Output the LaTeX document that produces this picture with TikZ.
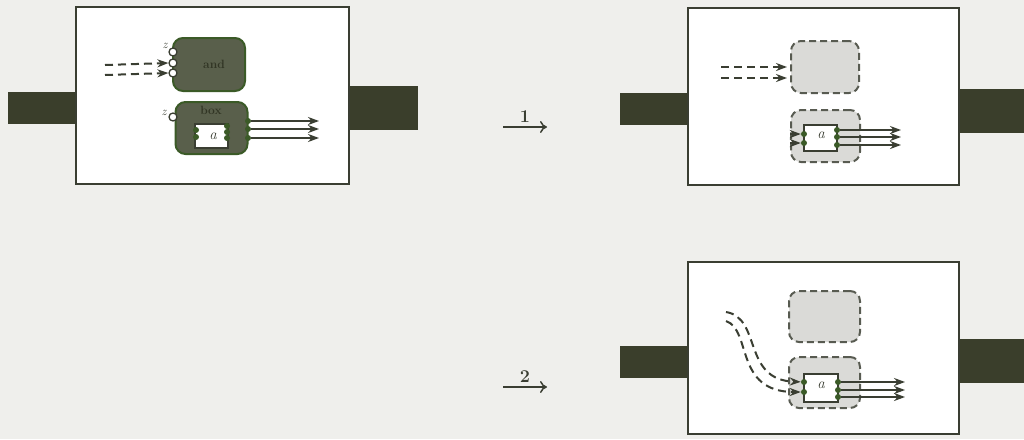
\documentclass[tikz,border=0pt]{standalone}
\usetikzlibrary{arrows.meta}
\definecolor{bgc}{HTML}{EFEFEC}
\definecolor{bardark}{HTML}{3A3E2B}
\definecolor{boxdark}{HTML}{595F4B}
\definecolor{boxedge}{HTML}{3B5A27}
\definecolor{ghostfill}{HTML}{DADAD7}
\definecolor{ink}{HTML}{3A3E32}
\tikzset{
  panel/.style={draw=ink, fill=white, line width=1.8pt},
  bar/.style={fill=bardark, draw=none},
  darkbox/.style={rounded corners=10pt, fill=boxdark, draw=boxedge, line width=2pt, minimum width=#1},
  ghostbox/.style={rounded corners=10pt, fill=ghostfill, draw=ink!85, dash pattern=on 7pt off 4pt, line width=2pt},
  innersq/.style={fill=white, draw=ink, line width=1.8pt, inner sep=0pt},
  port/.style={circle, draw=ink, fill=white, line width=1.3pt, inner sep=0pt, minimum size=8pt},
  bump/.style={circle, fill=boxedge, inner sep=0pt, minimum size=6pt},
  dsh/.style={draw=ink, line width=2pt, dash pattern=on 8pt off 5pt, -{Stealth[length=11pt,width=8pt]}},
  outarr/.style={draw=ink, line width=1.8pt, -{Stealth[length=11pt,width=8pt]}},
  stepar/.style={draw=ink, line width=1.5pt, -{To[length=7pt,width=12pt]}},
  lbl/.style={font=\fontsize{12}{12}\selectfont\itshape, text=ink},
  boxlbl/.style={font=\fontsize{12}{12}\selectfont\bfseries, text=bardark!85!black},
  alabel/.style={font=\fontsize{15}{15}\selectfont\itshape, text=ink},
  steplbl/.style={font=\fontsize{18}{18}\selectfont\bfseries, text=ink},
}
\begin{document}
\begin{tikzpicture}[x=1pt,y=-1pt]
\useasboundingbox (0,0) rectangle (1024,439);
\fill[bgc] (0,0) rectangle (1024,439);

% ---------- panel 1 ----------
\node[bar, minimum width=68pt, minimum height=32pt, inner sep=0pt] (b1l) at (42,108) {};
\node[bar, minimum width=69pt, minimum height=44pt, inner sep=0pt] (b1r) at (383.5,108) {};
\node[panel, minimum width=273pt, minimum height=177pt, inner sep=0pt] (p1) at (212.5,95.5) {};

\node[darkbox=72pt, minimum height=53pt] (andb) at (209,64.5) {};
\node[boxlbl] (andt) at (214,64) {and};
\node[port] (pz1) at (173,52) {};
\node[port] (pa1) at (173,63) {};
\node[port] (pa2) at (173,73) {};
\node[lbl] (z1) at (165,46) {z};
\coordinate (da1) at (105,65);
\coordinate (da2) at (105,75);
\draw[dsh] (da1) -- (pa1.west);
\draw[dsh] (da2) -- (pa2.west);

\node[darkbox=72pt, minimum height=52pt] (boxb) at (211.5,128) {};
\node[boxlbl] (boxt) at (211,110) {box};
\node[port] (pz2) at (173,117) {};
\node[lbl] (z2) at (164,113) {z};
\node[innersq, minimum width=33pt, minimum height=24pt] (in1) at (211.5,136) {};
\node[alabel] (a1) at (213,136) {a};
\node[bump] at (196,130) {};
\node[bump] at (196,137) {};
\node[bump] at (227,126) {};
\node[bump] at (227,132) {};
\node[bump] at (227,138) {};
\node[bump] (o1) at (248,121) {};
\node[bump] (o2) at (248,129) {};
\node[bump] (o3) at (248,138) {};
\coordinate (e1) at (319,121);
\coordinate (e2) at (319,129);
\coordinate (e3) at (319,138);
\draw[outarr] (o1) -- (e1);
\draw[outarr] (o2) -- (e2);
\draw[outarr] (o3) -- (e3);

% ---------- step arrows ----------
\coordinate (s1a) at (503,127);
\coordinate (s1b) at (547,127);
\draw[stepar] (s1a) -- node[above=0pt, steplbl] (l1) {1} (s1b);
\coordinate (s2a) at (503,387);
\coordinate (s2b) at (547,387);
\draw[stepar] (s2a) -- node[above=0pt, steplbl] (l2) {2} (s2b);

% ---------- panel 2 ----------
\node[bar, minimum width=68pt, minimum height=32pt, inner sep=0pt] (b2l) at (654,109) {};
\node[bar, minimum width=66pt, minimum height=44pt, inner sep=0pt] (b2r) at (991,111) {};
\node[panel, minimum width=271pt, minimum height=177pt, inner sep=0pt] (p2) at (823.5,96.5) {};
\node[ghostbox, minimum width=68pt, minimum height=52pt] (g2a) at (825,67) {};
\node[ghostbox, minimum width=69pt, minimum height=52pt] (g2b) at (825.5,136) {};
\coordinate (d2a) at (721,67);
\coordinate (d2b) at (721,78);
\coordinate (t2a) at (787,67);
\coordinate (t2b) at (787,78);
\draw[dsh] (d2a) -- (t2a);
\draw[dsh] (d2b) -- (t2b);
\node[innersq, minimum width=33pt, minimum height=26pt] (in2) at (820.5,138) {};
\node[alabel] (a2) at (821,135) {a};
\node[bump] (i2a) at (804,134) {};
\node[bump] (i2b) at (804,143) {};
\coordinate (f2a) at (790,134);
\coordinate (f2b) at (790,143);
\draw[outarr] (f2a) -- (i2a);
\draw[outarr] (f2b) -- (i2b);
\node[bump] (q1) at (837,130) {};
\node[bump] (q2) at (837,137) {};
\node[bump] (q3) at (837,145) {};
\coordinate (r1) at (901,130);
\coordinate (r2) at (901,137);
\coordinate (r3) at (901,145);
\draw[outarr] (q1) -- (r1);
\draw[outarr] (q2) -- (r2);
\draw[outarr] (q3) -- (r3);

% ---------- panel 3 ----------
\node[bar, minimum width=68pt, minimum height=32pt, inner sep=0pt] (b3l) at (654,362) {};
\node[bar, minimum width=66pt, minimum height=44pt, inner sep=0pt] (b3r) at (991,361) {};
\node[panel, minimum width=271pt, minimum height=172pt, inner sep=0pt] (p3) at (823.5,348) {};
\node[ghostbox, minimum width=71pt, minimum height=51pt] (g3a) at (824.5,316.5) {};
\node[ghostbox, minimum width=71pt, minimum height=51pt] (g3b) at (824.5,382.5) {};
\node[innersq, minimum width=34pt, minimum height=28pt] (in3) at (821,388) {};
\node[alabel] (a3) at (821,385) {a};
\node[bump] (i3a) at (804,382) {};
\node[bump] (i3b) at (804,392) {};
\coordinate (c3a) at (726,312);
\coordinate (c3b) at (726,321);
\draw[dsh] (c3a) .. controls (762,318) and (742,380) .. (i3a);
\draw[dsh] (c3b) .. controls (752,330) and (734,392) .. (i3b);
\node[bump] (u1) at (838,382) {};
\node[bump] (u2) at (838,390) {};
\node[bump] (u3) at (838,397) {};
\coordinate (v1) at (905,382);
\coordinate (v2) at (905,390);
\coordinate (v3) at (905,397);
\draw[outarr] (u1) -- (v1);
\draw[outarr] (u2) -- (v2);
\draw[outarr] (u3) -- (v3);
\end{tikzpicture}
\end{document}
